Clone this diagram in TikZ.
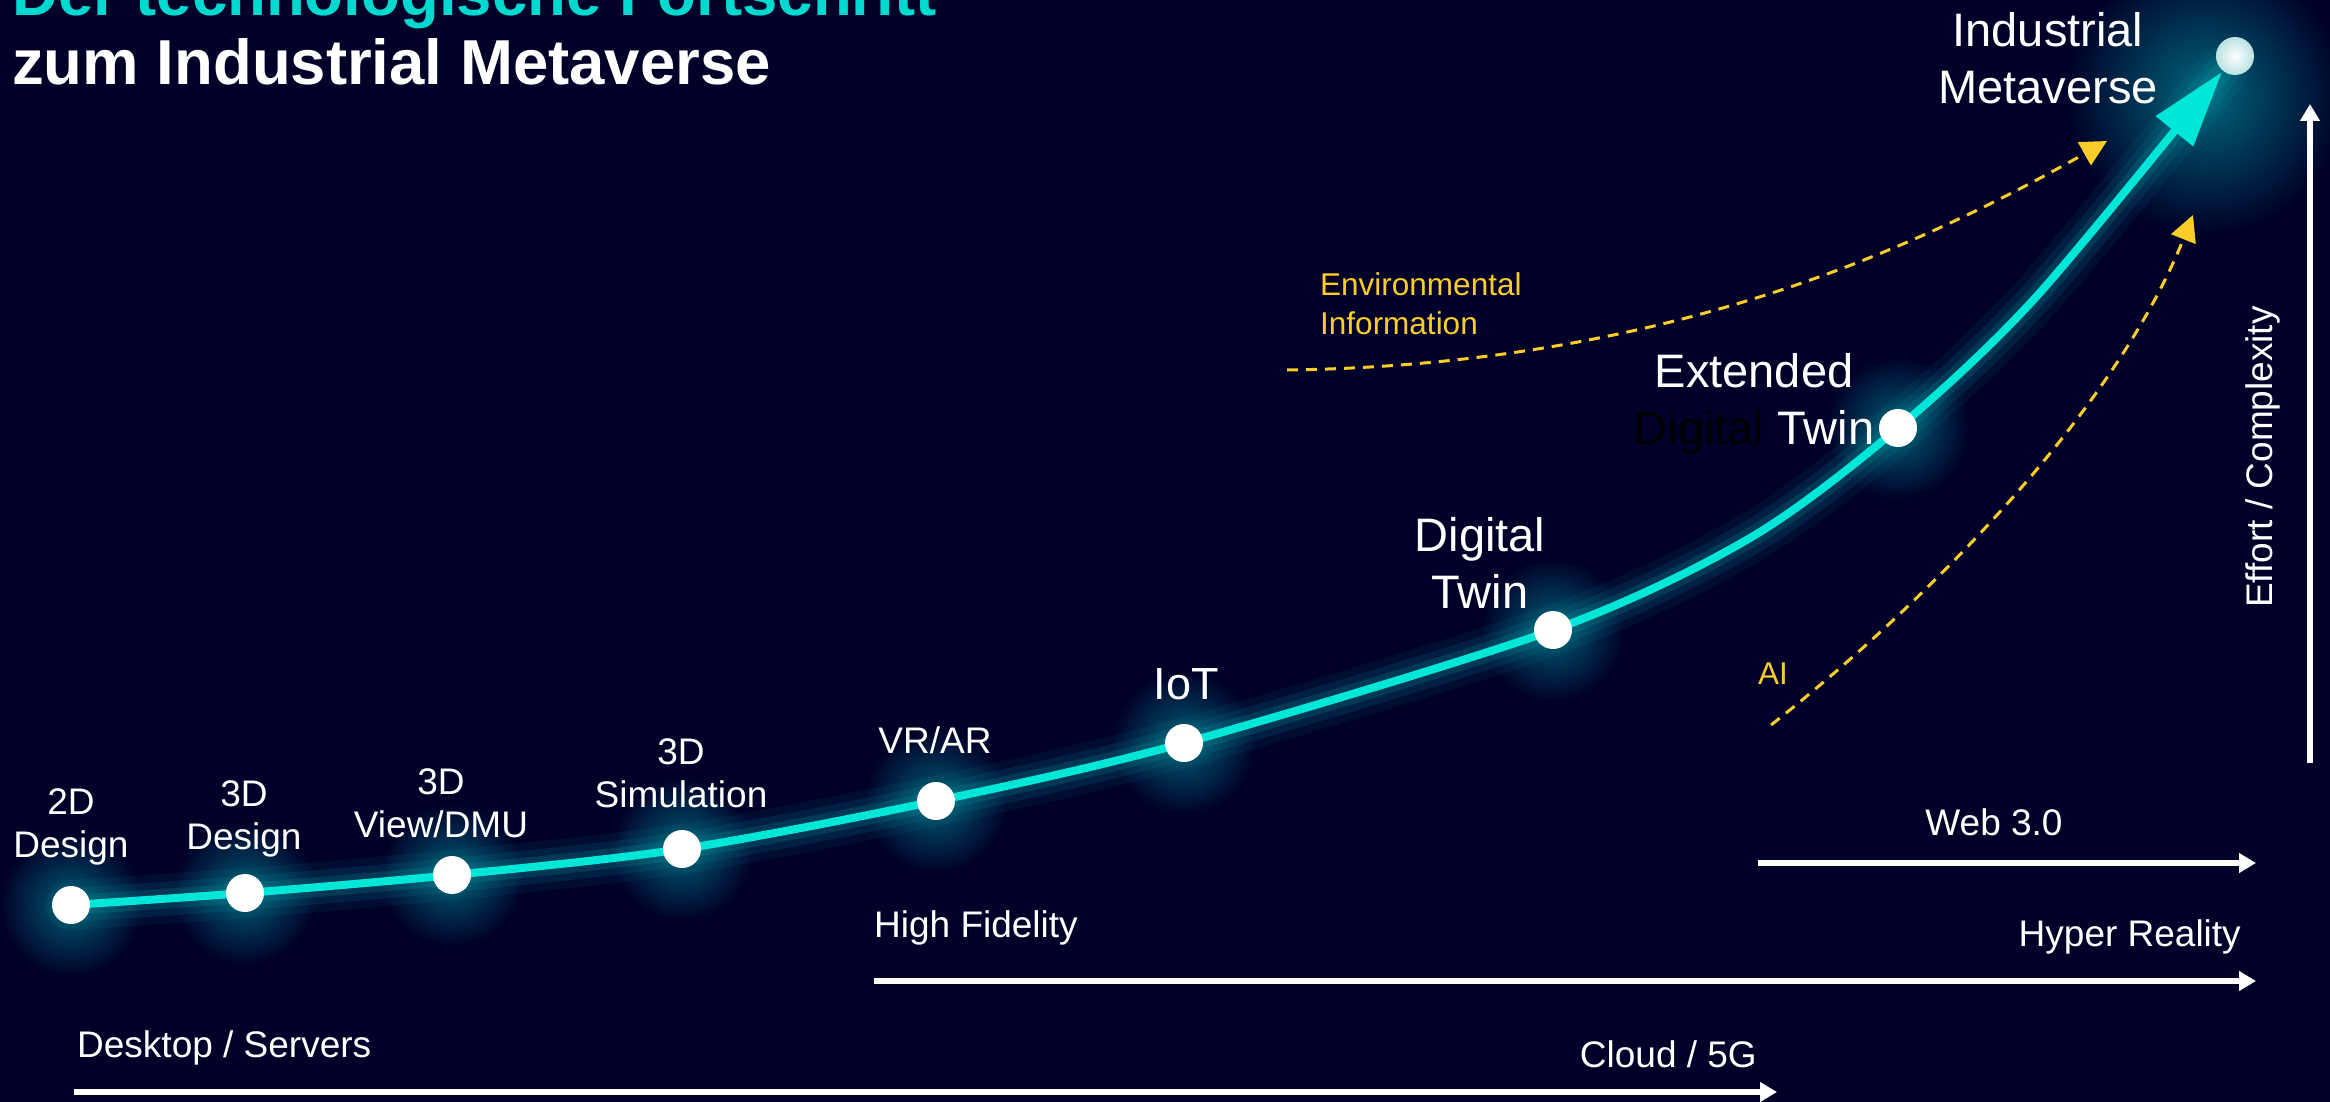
\documentclass[tikz,border=0pt]{standalone}
\usepackage{fontspec}
\setmainfont{Liberation Sans}
\usetikzlibrary{arrows.meta,fadings}
\definecolor{bg}{RGB}{0,0,40}
\definecolor{cy}{RGB}{0,230,215}
\definecolor{tcy}{RGB}{0,217,207}
\definecolor{gold}{RGB}{250,205,40}
\definecolor{glowc}{RGB}{0,170,180}
\definecolor{mdot}{RGB}{185,225,225}
\tikzfading[name=softglow, inner color=transparent!0, outer color=transparent!100]
\begin{document}
\begin{tikzpicture}[x=1pt,y=-1pt,
  lbl/.style={text=white, align=center, inner sep=0pt, font=\fontsize{37}{43}\selectfont},
  biglbl/.style={text=white, align=center, inner sep=0pt, font=\fontsize{47}{57}\selectfont},
  goldlbl/.style={text=gold, align=left, inner sep=0pt, font=\fontsize{31.5}{39}\selectfont},
  titlelbl/.style={inner sep=0pt, anchor=base west, font=\fontsize{63.5}{67}\selectfont\bfseries},
  dot/.style={circle, fill=white, minimum size=38pt, inner sep=0pt},
  halo/.style={fill=glowc, opacity=0.55, path fading=softglow},
  wline/.style={draw=white, line width=6pt, -{Triangle[length=17pt,width=19pt]}},
  gdash/.style={draw=gold, line width=3pt, dash pattern=on 11pt off 8pt, -{Triangle[length=26pt,width=26pt]}},
  curveglow/.style={draw=glowc, line cap=round},
]
\fill[bg] (0,0) rectangle (2330,1102);
\useasboundingbox (0,0) rectangle (2330,1102);

% title
\node[titlelbl, text=tcy] (t1) at (12,16) {Der technologische Fortschritt};
\node[titlelbl, text=white] (t2) at (12,85) {zum Industrial Metaverse};

% curve coordinates
\coordinate (p1) at (71,905);
\coordinate (p2) at (245,893);
\coordinate (p3) at (452,875);
\coordinate (p4) at (682,849);
\coordinate (p5) at (936,801);
\coordinate (p6) at (1184,743);
\coordinate (p7) at (1553,630);
\coordinate (q1) at (1750,538);
\coordinate (p8) at (1898,428);
\coordinate (q2) at (2036,297);
\coordinate (tipc) at (2222,72);
\coordinate (p9) at (2235,56);

\def\curvepath{plot[smooth, tension=0.5] coordinates {(p1) (p2) (p3) (p4) (p5) (p6) (p7) (q1) (p8) (q2) (tipc)}}

% glows
\foreach \p in {p1,p2,p3,p4,p5,p6,p7,p8}{
  \fill[halo] (\p) circle (72pt);
}
\fill[glowc, opacity=0.6, path fading=softglow] (2205,95) circle (140pt);
\draw[curveglow, line width=50pt, opacity=0.08] \curvepath;
\draw[curveglow, line width=34pt, opacity=0.12] \curvepath;
\draw[curveglow, line width=20pt, opacity=0.18] \curvepath;

% main curve
\draw[cy, line width=8pt, -{Triangle[length=76pt,width=46pt]}] \curvepath;

% dots
\node[dot] (d1) at (p1) {};
\node[dot] (d2) at (p2) {};
\node[dot] (d3) at (p3) {};
\node[dot] (d4) at (p4) {};
\node[dot] (d5) at (p5) {};
\node[dot] (d6) at (p6) {};
\node[dot] (d7) at (p7) {};
\node[dot] (d8) at (p8) {};
\node[circle, inner sep=0pt, minimum size=38pt, shading=radial, inner color=white, outer color=mdot] (d9) at (p9) {};

% labels
\node[lbl] (l1) at (71,827) {2D\\Design};
\node[lbl] (l2) at (244,819) {3D\\Design};
\node[lbl] (l3) at (441,803) {3D\\View/DMU};
\node[lbl] (l4) at (681,773) {3D\\Simulation};
\node[lbl] (l5) at (935,740) {VR/AR};
\node[lbl, font=\fontsize{45}{52}\selectfont] (l6) at (1186,684) {IoT};
\node[biglbl] (l7) at (1480,563) {Digital\\Twin};
\node[biglbl] (l8) at (1754,404) {Extended\\{\color{black}Digital} Twin};
\node[biglbl] (l9) at (2048,58) {Industrial\\Metaverse};

% dashed yellow arrows
\coordinate (e1) at (1287,370);
\coordinate (e2) at (2107,141);
\draw[gdash] (e1) .. controls (1650,365) and (1900,258) .. (e2);
\node[goldlbl, anchor=west] (env) at (1320,304) {Environmental\\Information};

\coordinate (a1) at (1771,725);
\coordinate (a2) at (2193,215);
\draw[gdash] (a1) .. controls (1930,600) and (2115,410) .. (a2);
\node[goldlbl] (ai) at (1773,674) {AI};

% axes arrows
\coordinate (w1) at (1758,863);
\coordinate (w2) at (2256,863);
\draw[wline] (w1) -- (w2);
\node[lbl] (web) at (1994,822) {Web 3.0};

\coordinate (h1) at (874,981);
\coordinate (h2) at (2256,981);
\draw[wline] (h1) -- (h2);
\node[lbl, anchor=west] (hf) at (874,928) {High Fidelity};
\node[lbl, anchor=east] (hr) at (2241,937) {Hyper Reality};

\coordinate (s1) at (74,1092);
\coordinate (s2) at (1777,1092);
\draw[wline] (s1) -- (s2);
\node[lbl, anchor=west] (ds) at (77,1048) {Desktop / Servers};
\node[lbl, anchor=east] (cl) at (1757,1054) {Cloud / 5G};

\coordinate (v1) at (2310,763);
\coordinate (v2) at (2310,104);
\draw[wline] (v1) -- (v2);
\node[lbl, rotate=90] (eff) at (2263,457) {Effort / Complexity};
\end{tikzpicture}
\end{document}
